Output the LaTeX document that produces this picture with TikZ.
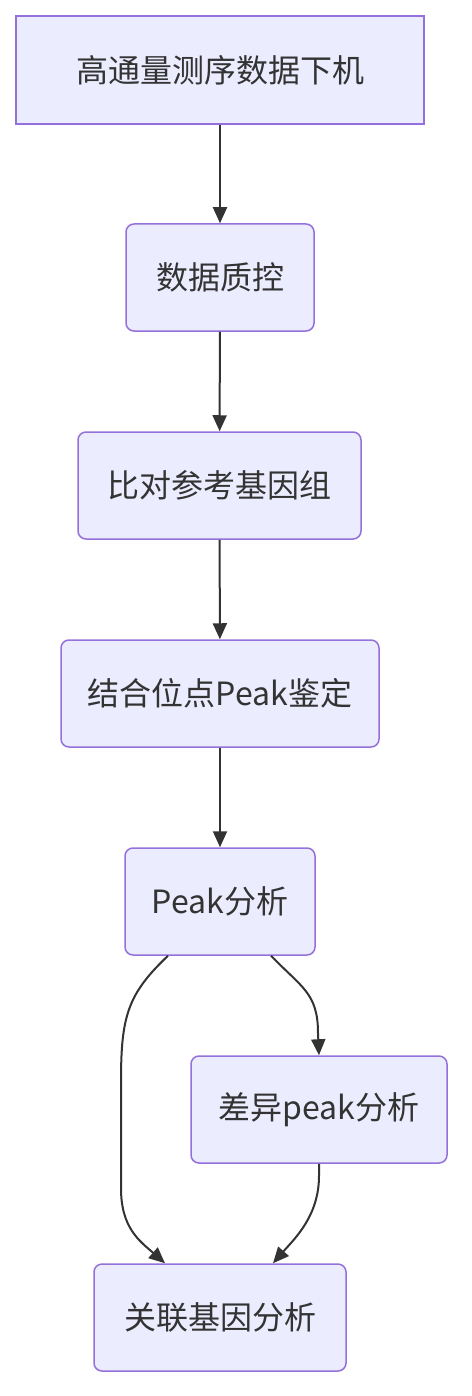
\documentclass[tikz,border=0pt]{standalone}
\usepackage{fontspec}
\setmainfont{Noto Sans CJK SC}
\usetikzlibrary{arrows.meta,calc}
\definecolor{nodefill}{HTML}{ECECFF}
\definecolor{nodeline}{HTML}{9370DB}
\definecolor{ink}{HTML}{333333}
\tikzset{
  box/.style={draw=nodeline, fill=nodefill, line width=1.5pt, rounded corners=8pt,
    minimum height=107pt, inner sep=0pt, text=ink, font=\fontsize{32}{38}\selectfont},
  sqbox/.style={box, rounded corners=0pt},
  conn/.style={draw=ink, line width=2pt, -{Triangle[length=16pt,width=14pt]}}
}
\begin{document}
\begin{tikzpicture}[x=1pt,y=-1pt]
\useasboundingbox (0,0) rectangle (471,1396);
\node[sqbox, minimum width=408pt, minimum height=108pt] (n1) at (220,70) {高通量测序数据下机};
\node[box, minimum width=188pt] (n2) at (220,277.5) {数据质控};
\node[box, minimum width=283pt] (n3) at (219.5,485.5) {比对参考基因组};
\node[box, minimum width=318pt] (n4) at (220,693.5) {结合位点Peak鉴定};
\node[box, minimum width=190pt] (n5) at (220,901.5) {Peak分析};
\node[box, minimum width=256pt] (n6) at (319,1109.5) {差异peak分析};
\node[box, minimum width=252pt] (n7) at (220,1317.5) {关联基因分析};
\draw[conn] (n1) -- (n2);
\draw[conn] (n2) -- (n3);
\draw[conn] (n3) -- (n4);
\draw[conn] (n4) -- (n5);
\draw[conn] ($(n5.south)+(51,0)$) .. controls ($(n5.south)+(82,32)$) and ($(n6.north)+(-1,-62)$) .. ($(n6.north)+(-1,-22)$) -- (n6.north);
\draw[conn] ($(n5.south)+(-52,0)$) .. controls ($(n5.south)+(-92,38)$) and ($(n5.south)+(-99,60)$) .. ($(n5.south)+(-99,125)$) -- ($(n7.north)+(-99,-75)$) .. controls ($(n7.north)+(-99,-35)$) and ($(n7.north)+(-80,-22)$) .. ($(n7.north)+(-55,0)$);
\draw[conn] (n6.south) -- ($(n6.south)+(0,12)$) .. controls ($(n6.south)+(0,52)$) and ($(n7.north)+(75,-25)$) .. ($(n7.north)+(53,0)$);
\end{tikzpicture}
\end{document}
